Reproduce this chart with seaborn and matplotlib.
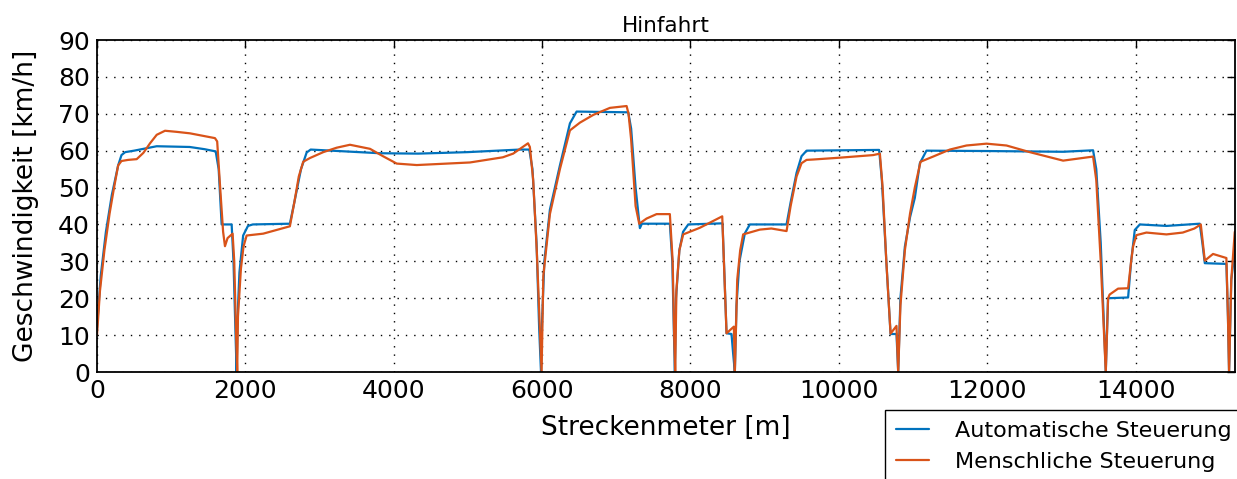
import numpy as np
import pandas as pd
import matplotlib
matplotlib.use("Agg")
import matplotlib.pyplot as plt
import seaborn as sns

# ---- data ----
auto_x = [0, 50, 120, 200, 285, 330, 380, 500, 805, 1250, 1450, 1600, 1640, 1680, 1815, 1840, 1865, 1882,
          1895, 1920, 1970, 2035, 2100, 2600, 2660, 2750, 2826, 2880, 3815, 4330, 4990, 5700, 5827, 5870,
          5925, 5960, 5985, 6000, 6030, 6105, 6240, 6375, 6465, 6800, 7161, 7200, 7260, 7318, 7345, 7722,
          7755, 7775, 7790, 7805, 7850, 7900, 7970, 8432, 8460, 8486, 8553, 8575, 8598, 8620, 8660, 8733,
          8800, 9295, 9350, 9430, 9497, 9565, 10543, 10580, 10640, 10697, 10777, 10800, 10830, 10890, 10960,
          11024, 11092, 11181, 12000, 13023, 13427, 13470, 13530, 13598, 13629, 13899, 13940, 13989, 14057,
          14416, 14865, 14900, 14933, 15224, 15245, 15260, 15290, 15337]
auto_v = [12, 26, 38, 48, 56, 58.8, 59.6, 60, 61.2, 61, 60.4, 59.8, 55, 40, 40, 30, 12, 0,
          15, 27, 37, 39.6, 40, 40.2, 46, 55, 59.5, 60.3, 59.3, 59.2, 59.6, 60.3, 60.3, 55,
          35, 12, 0, 14, 30, 44, 56, 67.4, 70.6, 70.5, 70.4, 66, 50, 39, 40.2, 40.2,
          30, 12, 0, 20, 33, 38, 40, 40.3, 25, 10.5, 10.3, 5, 0, 18, 30, 37.6,
          40, 40, 46, 54, 58.5, 60, 60.2, 52, 30, 10.3, 10.3, 0, 20, 34, 42,
          47.2, 56.6, 60, 59.9, 59.7, 60.1, 55, 35, 0, 20, 20.2, 30, 38.5, 40,
          39.6, 40.2, 35, 29.5, 29.3, 15, 0, 25, 33]

human_x = [0, 40, 100, 170, 230, 285, 330, 420, 535, 625, 715, 805, 917, 1074, 1253, 1433, 1590, 1620,
           1660, 1700, 1725, 1760, 1828, 1850, 1875, 1890, 1900, 1940, 1975, 2017, 2240, 2600, 2660, 2720,
           2780, 2870, 3050, 3230, 3410, 3680, 3855, 4040, 4310, 5027, 5470, 5610, 5810, 5835, 5880, 5930,
           5970, 5993, 6016, 6105, 6240, 6375, 6510, 6690, 6914, 7139, 7165, 7200, 7260, 7309, 7408, 7543,
           7722, 7760, 7780, 7794, 7810, 7850, 7902, 8127, 8428, 8460, 8486, 8585, 8598, 8630, 8670, 8710,
           8935, 9090, 9295, 9350, 9430, 9497, 9565, 9654, 10013, 10462, 10553, 10590, 10640, 10697, 10777,
           10800, 10830, 10890, 10960, 11024, 11101, 11271, 11496, 11720, 11990, 12260, 12574, 13023, 13427,
           13470, 13530, 13598, 13629, 13650, 13764, 13899, 13940, 13966, 14011, 14146, 14416, 14636, 14793,
           14879, 14933, 15044, 15224, 15245, 15260, 15290, 15337]
human_v = [10, 22, 33, 43, 50, 56, 57.2, 57.5, 57.7, 59.4, 62, 64.3, 65.4, 65.1, 64.7, 64, 63.4, 62.5,
           50, 38, 34.1, 36.3, 37.5, 30, 10, 0, 15, 28, 34, 37, 37.5, 39.5, 46, 53,
           57, 58, 59.6, 60.8, 61.6, 60.5, 58.5, 56.5, 56.1, 56.8, 58.2, 59.2, 62, 61, 52, 32,
           12, 0, 26, 42.8, 55, 65.5, 67.6, 69.7, 71.6, 72.1, 70, 63, 45, 40.2, 41.6, 42.8,
           42.8, 30, 10, 0, 22, 33, 37.3, 39.1, 42.2, 25, 10.5, 12.3, 0, 25, 33, 37.3,
           38.6, 38.9, 38.2, 45, 53, 56.6, 57.5, 57.6, 58.1, 58.8, 59.2, 50, 30, 10.4, 12.5,
           0, 18, 33, 43, 50, 57, 58.4, 60.3, 61.4, 61.9, 61.4, 59.6, 57.3, 58.4,
           52, 30, 0, 20, 21, 22.6, 22.7, 30, 34, 37.1, 37.8, 37.3, 37.8, 38.9,
           40, 30.2, 32, 30.9, 15, 0, 25, 38]

series_names = ["Automatische Steuerung", "Menschliche Steuerung"]
x_ticks = [0, 2000, 4000, 6000, 8000, 10000, 12000, 14000]
y_ticks = [0, 10, 20, 30, 40, 50, 60, 70, 80, 90]

df = pd.concat([
    pd.DataFrame({"Streckenmeter": auto_x, "v": auto_v, "Steuerung": series_names[0]}),
    pd.DataFrame({"Streckenmeter": human_x, "v": human_v, "Steuerung": series_names[1]}),
], ignore_index=True)

# ---- style ----
sns.set_style("white")
plt.rcParams["font.family"] = ["DejaVu Sans"]
plt.rcParams["text.color"] = "black"
plt.rcParams["axes.labelcolor"] = "black"
plt.rcParams["xtick.color"] = "black"
plt.rcParams["ytick.color"] = "black"

W, H = 1237, 479
fig = plt.figure(figsize=(W / 100, H / 100), dpi=100)
ax = fig.add_axes([97 / W, 1 - 372 / H, (1235 - 97) / W, (372 - 40) / H])

colors = ["#0072BD", "#D95319"]
sns.lineplot(data=df, x="Streckenmeter", y="v", hue="Steuerung", hue_order=series_names,
             palette=colors, estimator=None, sort=False, linewidth=1.6, ax=ax, legend=False)

ax.set_xlim(0, 15340)
ax.set_ylim(0, 90)
ax.set_xticks(x_ticks)
ax.set_yticks(y_ticks)
ax.grid(True, color="black", linestyle=(0, (1, 5)), linewidth=1.0)
ax.tick_params(direction="in", length=6, width=1, top=True, right=True,
               labelsize=18, pad=5, colors="black")
for s in ax.spines.values():
    s.set_color("black")
    s.set_linewidth(1.3)

ax.set_title("Hinfahrt", fontsize=15.5, pad=6, color="black")
ax.set_xlabel("Streckenmeter [m]", fontsize=19, labelpad=9, color="black")
ax.set_ylabel("Geschwindigkeit [km/h]", fontsize=19, labelpad=14, color="black")

handles = ax.get_lines()[:2]
leg = fig.legend(handles, series_names, loc="upper left",
                 bbox_to_anchor=(885 / W, 1 - 410 / H), bbox_transform=fig.transFigure,
                 frameon=True, fancybox=False, framealpha=1, edgecolor="black",
                 fontsize=16, borderpad=0.5, handlelength=1.5, handletextpad=1.15,
                 labelspacing=0.5, borderaxespad=0)
leg.get_frame().set_linewidth(1.0)
for t in leg.get_texts():
    t.set_color("black")

fig.savefig("out.png", dpi=100)
